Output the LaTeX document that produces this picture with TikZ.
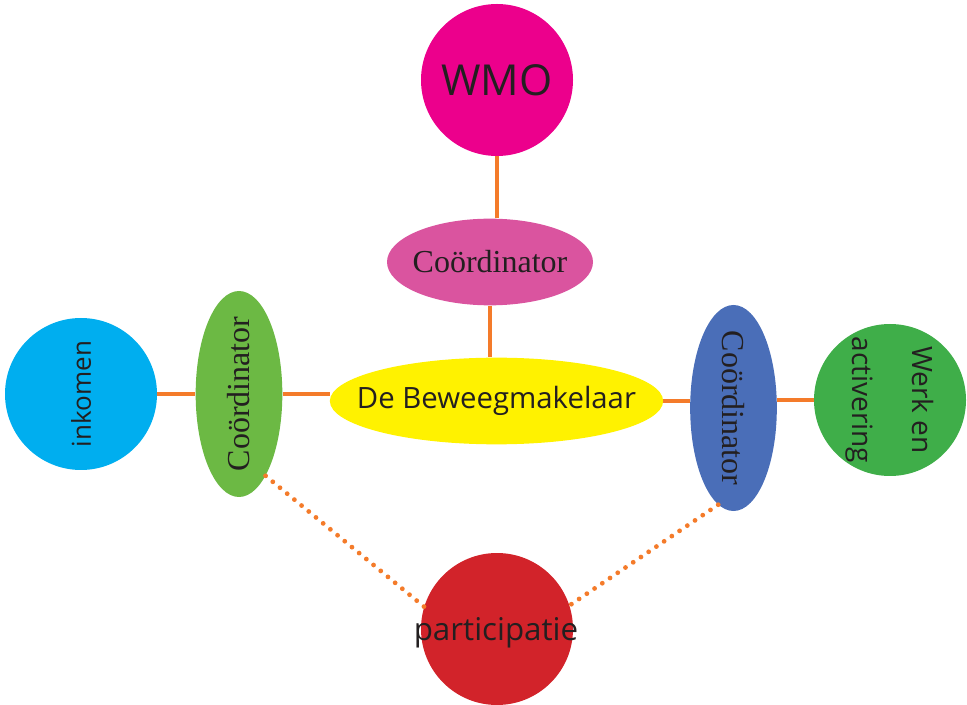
\documentclass[tikz,border=0pt]{standalone}
\usepackage{fontspec}
\setmainfont{Liberation Serif}
\setsansfont{Open Sans}
\usetikzlibrary{shapes.geometric}
\definecolor{wmopink}{RGB}{236,0,140}
\definecolor{rosepink}{RGB}{218,84,159}
\definecolor{makelaar}{RGB}{255,242,0}
\definecolor{leafgreen}{RGB}{108,185,68}
\definecolor{skyblue}{RGB}{0,174,239}
\definecolor{steelblue}{RGB}{74,110,184}
\definecolor{grassgreen}{RGB}{63,174,73}
\definecolor{partred}{RGB}{210,35,42}
\definecolor{linkorange}{RGB}{244,123,42}
\definecolor{inkdark}{RGB}{35,31,32}

\begin{document}
\begin{tikzpicture}[x=0.75pt, y=-0.75pt,
    bubble/.style={circle, draw=none, inner sep=0pt, minimum size=114pt},
    oval/.style={ellipse, draw=none, inner sep=0pt},
    flat/.style={oval, minimum width=154.5pt, minimum height=65pt},
    upright/.style={oval, minimum width=65pt, minimum height=154.5pt},
    txt/.style={text=inkdark, font=\sffamily},
    link/.style={linkorange, line width=3pt},
    dots/.style={linkorange, line width=3.6pt, line cap=round, dash pattern=on 0pt off 7pt}]
    \useasboundingbox (0,0) rectangle (967,705);

    % Circles
    \node[bubble, fill=wmopink, label={[txt, font=\sffamily\fontsize{32}{36}\selectfont]center:WMO}] (wmo) at (497,80) {};
    \node[bubble, fill=skyblue, label={[txt, rotate=90, font=\sffamily\fontsize{19.5}{23}\selectfont]center:inkomen}] (inkomen) at (81,394) {};
    \node[bubble, fill=grassgreen, label={[txt, rotate=-90, align=center, font=\sffamily\fontsize{21}{25}\selectfont]center:Werk en\\[20pt]activering}] (werk) at (890,400) {};
    \node[bubble, fill=partred] (part) at (497,629) {};

    % Ellipses
    \node[flat, fill=rosepink, label={[text=inkdark, font=\fontsize{24}{28}\selectfont]center:Coördinator}] (coordT) at (490,262) {};
    \node[oval, fill=makelaar, minimum width=250pt, minimum height=65pt, label={[txt, font=\sffamily\fontsize{22}{26}\selectfont]center:De Beweegmakelaar}] (beweeg) at (496.5,401) {};
    \node[upright, fill=leafgreen, label={[text=inkdark, rotate=90, font=\fontsize{24}{28}\selectfont]center:Coördinator}] (coordL) at (239,394) {};
    \node[upright, fill=steelblue, label={[text=inkdark, rotate=-90, font=\fontsize{24}{28}\selectfont]center:Coördinator}] (coordR) at (733.5,408) {};

    % Links
    \draw[link] (wmo.south) -- (wmo.south |- coordT.north);
    \draw[link] (coordT.south) -- (coordT.south |- beweeg.north);
    \draw[link] (inkomen.east) -- (coordL.west);
    \draw[link] (coordL.east) -- (coordL.east -| beweeg.west);
    \draw[link] (beweeg.east) -- (beweeg.east -| coordR.west);
    \draw[link] (werk.west -| coordR.east) -- (werk.west);

    % Dotted links
    \draw[dots] (coordL.-72) -- (part.163);
    \draw[dots] (coordR.-99) -- (part.18);

    % Label on top of dots
    \node[txt, font=\sffamily\fontsize{23.5}{27}\selectfont] (partlabel) at (496,633) {participatie};
\end{tikzpicture}
\end{document}
